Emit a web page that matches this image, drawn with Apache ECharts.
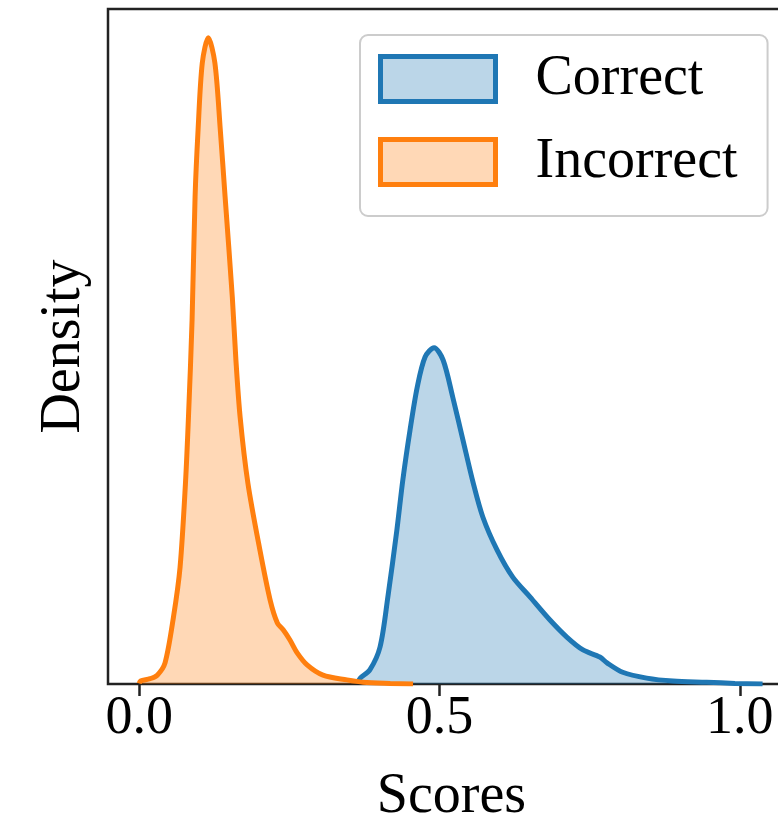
<!DOCTYPE html>
<html>
<head>
<meta charset="utf-8">
<script src="https://cdn.jsdelivr.net/npm/echarts@6/dist/echarts.min.js"></script>
<style>
  html, body { margin: 0; padding: 0; background: #fff; }
  #chart { width: 778px; height: 836px; }
</style>
</head>
<body>
<div id="chart"></div>
<script>
// score values (x) and estimated density (y)
const correctX = [0.364, 0.368, 0.384, 0.401, 0.414, 0.429, 0.439, 0.451, 0.463, 0.476, 0.491, 0.506, 0.522, 0.539, 0.556, 0.572, 0.596, 0.622, 0.651, 0.684, 0.712, 0.739, 0.767, 0.779, 0.805, 0.845, 0.889, 0.945, 0.992, 1.038];
const correctY = [0.02, 0.10, 0.24, 0.63, 1.48, 2.62, 3.48, 4.33, 5.06, 5.57, 5.73, 5.52, 4.89, 4.16, 3.43, 2.85, 2.28, 1.82, 1.48, 1.09, 0.80, 0.58, 0.46, 0.36, 0.20, 0.10, 0.05, 0.03, 0.01, 0.0];

const incorrectX = [0.000, 0.002, 0.018, 0.030, 0.043, 0.057, 0.068, 0.077, 0.082, 0.088, 0.093, 0.098, 0.105, 0.115, 0.126, 0.135, 0.143, 0.155, 0.161, 0.168, 0.181, 0.201, 0.218, 0.230, 0.240, 0.251, 0.263, 0.280, 0.306, 0.346, 0.373, 0.418, 0.456];
const incorrectY = [0.01, 0.05, 0.09, 0.15, 0.36, 1.14, 1.99, 3.42, 4.55, 6.20, 8.30, 9.44, 10.58, 11.01, 10.58, 9.44, 8.30, 6.59, 5.52, 4.55, 3.42, 2.28, 1.43, 1.04, 0.92, 0.75, 0.53, 0.32, 0.15, 0.07, 0.03, 0.01, 0.0];

const xTicks = [0, 0.5, 1.0];

const serif = "'Liberation Serif', 'DejaVu Serif', serif";

const chart = echarts.init(document.getElementById('chart'));

const zip = (xs, ys) => xs.map((x, i) => [x, ys[i]]);

chart.setOption({
  animation: false,
  grid: {
    left: 108,
    top: 9,
    width: 687,
    height: 675,
    show: true,
    borderColor: '#222',
    borderWidth: 2.5,
    containLabel: false,
    outerBoundsMode: 'none'
  },
  legend: {
    orient: 'vertical',
    left: 360,
    top: 35,
    padding: [16, 30, 26, 18],
    backgroundColor: 'rgba(255,255,255,0.8)',
    borderColor: '#cccccc',
    borderWidth: 2,
    borderRadius: 8,
    itemWidth: 115,
    itemHeight: 45,
    itemGap: 27,
    textStyle: {
      fontFamily: serif,
      fontSize: 56,
      color: '#000',
      padding: [0, 0, 0, 35]
    },
    data: [
      {
        name: 'Correct',
        icon: 'rect',
        itemStyle: { color: 'rgba(31,119,180,0.3)', borderColor: '#1f77b4', borderWidth: 5 }
      },
      {
        name: 'Incorrect',
        icon: 'rect',
        itemStyle: { color: 'rgba(255,127,14,0.3)', borderColor: '#ff7f0e', borderWidth: 5 }
      }
    ]
  },
  xAxis: {
    type: 'value',
    min: -0.052,
    max: 1.092,
    name: 'Scores',
    nameLocation: 'middle',
    nameGap: 85,
    nameTextStyle: { fontFamily: serif, fontSize: 56, color: '#000' },
    splitLine: { show: false },
    axisLine: { show: false },
    axisTick: {
      show: true,
      customValues: xTicks,
      length: 12,
      lineStyle: { color: '#222', width: 2.5 }
    },
    axisLabel: {
      customValues: xTicks,
      margin: 8,
      fontFamily: serif,
      fontSize: 54,
      color: '#000',
      formatter: v => v.toFixed(1)
    }
  },
  yAxis: {
    type: 'value',
    min: 0,
    max: 11.5,
    name: 'Density',
    nameLocation: 'middle',
    nameRotate: 90,
    nameGap: 16,
    nameTextStyle: { fontFamily: serif, fontSize: 56, color: '#000' },
    splitLine: { show: false },
    axisLine: { show: false },
    axisTick: { show: false },
    axisLabel: { show: false }
  },
  series: [
    {
      name: 'Correct',
      type: 'line',
      smooth: 0.3,
      showSymbol: false,
      data: zip(correctX, correctY),
      lineStyle: { color: '#1f77b4', width: 5 },
      itemStyle: { color: '#1f77b4' },
      areaStyle: { color: '#1f77b4', opacity: 0.3 }
    },
    {
      name: 'Incorrect',
      type: 'line',
      smooth: 0.3,
      showSymbol: false,
      data: zip(incorrectX, incorrectY),
      lineStyle: { color: '#ff7f0e', width: 5 },
      itemStyle: { color: '#ff7f0e' },
      areaStyle: { color: '#ff7f0e', opacity: 0.3 }
    }
  ]
});
</script>
</body>
</html>
